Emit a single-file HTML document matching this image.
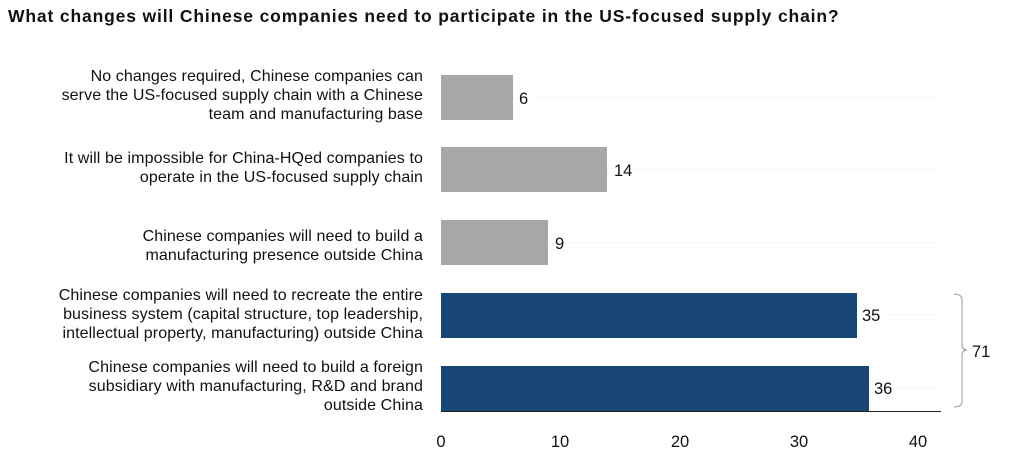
<!DOCTYPE html>
<html><head><style>
body{margin:0;width:1023px;height:453px;background:#fff;font-family:"Liberation Sans",sans-serif;color:#111;position:relative;overflow:hidden}
.t{position:absolute;left:8px;top:6px;font-weight:bold;font-size:17.5px;letter-spacing:0.85px}
.l{position:absolute;right:600px;text-align:right;font-size:16px;letter-spacing:0.1px;line-height:19px;white-space:nowrap}
svg{position:absolute;left:0;top:0}
</style></head><body>
<div class="t">What changes will Chinese companies need to participate in the US-focused supply chain?</div>
<div class="l" style="top:67px">No changes required, Chinese companies can<br>serve the US-focused supply chain with a Chinese<br>team and manufacturing base</div>
<div class="l" style="top:149px">It will be impossible for China-HQed companies to<br>operate in the US-focused supply chain</div>
<div class="l" style="top:227px">Chinese companies will need to build a<br>manufacturing presence outside China</div>
<div class="l" style="top:286px">Chinese companies will need to recreate the entire<br>business system (capital structure, top leadership,<br>intellectual property, manufacturing) outside China</div>
<div class="l" style="top:358px">Chinese companies will need to build a foreign<br>subsidiary with manufacturing, R&amp;D and brand<br>outside China</div>
<svg width="1023" height="453" font-family="Liberation Sans, sans-serif" font-size="16.5" fill="#111">
<g stroke="#ddd" stroke-dasharray="1,3">
<line x1="513" y1="98" x2="940" y2="98"/><line x1="607" y1="170" x2="940" y2="170"/><line x1="548" y1="243" x2="940" y2="243"/><line x1="857" y1="315" x2="940" y2="315"/><line x1="869" y1="388" x2="940" y2="388"/>
</g>
<rect x="441" y="75" width="72" height="45" fill="#a8a6a7"/>
<rect x="441" y="147" width="166" height="45" fill="#a8a6a7"/>
<rect x="441" y="220" width="107" height="45" fill="#a8a6a7"/>
<rect x="441" y="293" width="416" height="45" fill="#174674"/>
<rect x="441" y="366" width="428" height="45" fill="#174674"/>
<line x1="441" y1="411.5" x2="941" y2="411.5" stroke="#222"/>
<g fill="#fff"><rect x="516" y="90" width="14" height="16"/><rect x="611" y="162" width="22" height="16"/><rect x="551" y="235" width="14" height="16"/><rect x="859" y="307" width="24" height="16"/><rect x="871" y="380" width="24" height="16"/></g>
<text x="519" y="104">6</text><text x="614" y="176">14</text><text x="555" y="249">9</text><text x="862" y="321">35</text><text x="874" y="394">36</text>
<path d="M954 294 Q962 294 962 300 L962 344 Q962 350 967 350 Q962 350 962 356 L962 401 Q962 407 954 407" fill="none" stroke="#999"/>
<text x="972" y="357">71</text>
<g text-anchor="middle"><text x="441" y="447">0</text><text x="560" y="447">10</text><text x="680" y="447">20</text><text x="799" y="447">30</text><text x="918" y="447">40</text></g>
</svg>
</body></html>
